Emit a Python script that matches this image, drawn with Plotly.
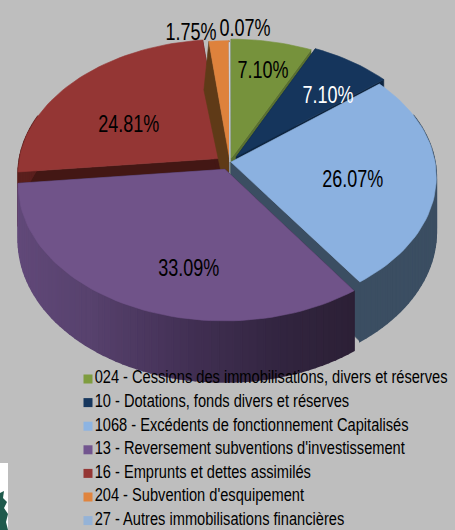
import math
import plotly.graph_objects as go

categories = ["024 - Cessions des immobilisations, divers et réserves",
              "10 - Dotations, fonds divers et réserves",
              "1068 - Excédents de fonctionnement Capitalisés",
              "13 - Reversement subventions d'investissement",
              "16 - Emprunts et dettes assimilés",
              "204 - Subvention d'esquipement",
              "27 - Autres immobilisations financières"]
values = [7.10, 7.10, 26.07, 33.09, 24.81, 1.75, 0.07]
legend_colors = ["#7F9D3F", "#17375E", "#8DB4E2", "#72558F", "#953735", "#E0843E", "#95B3D7"]
top_colors = ["#76923C", "#15355C", "#8BB1E0", "#705389", "#943634", "#DE823C", "#D5DCE8"]
radial_colors = ["#5A7030", "#0E2540", "#3B4E62", "#2C2035", "#431714", "#5F3A17", "#8A9AAE"]
outer_colors = ["#5A7030", "#0E2540", "#3B4E62", None, "#5A1F1D", "#5F3A17", "#8A9AAE"]
explode = [0.03, 0.05, 0.005, 0.06, 0.045, 0.015, 0.0]
label_colors = ["black", "white", "black", "black", "black", "black", "black"]
label_x = [263, 328, 352, 188, 128, 191, 245]
label_y = [69, 94, 178, 267, 123, 31, 27]
paint_order = [4, 5, 6, 0, 1, 2, 3]
purple_wall_stops = [(-1.0, (98, 74, 122)), (-0.6, (88, 66, 110)), (-0.15, (66, 48, 84)),
                     (0.25, (50, 37, 64)), (0.6, (44, 32, 53))]

CX, CY, A, B, D, H = 230, 162, 204, 133, 9.0, 54
BG = "#BEBEBE"


def project(X, Y, drop=0.0, lean=0.0):
    s = D / (D + Y)
    return CX + A * X * s + lean, CY - B * Y * s + drop * s


def lerp_stops(x):
    for (a, ca), (b, cb) in zip(purple_wall_stops, purple_wall_stops[1:]):
        if x <= b:
            t = max(0.0, (x - a) / (b - a))
            return "rgb(%d,%d,%d)" % tuple(ca[i] + (cb[i] - ca[i]) * t for i in range(3))
    return "rgb(%d,%d,%d)" % purple_wall_stops[-1][1]


fig = go.Figure()


def poly(pts, color, lw=0.6):
    fig.add_trace(go.Scatter(x=[p[0] for p in pts] + [pts[0][0]], y=[p[1] for p in pts] + [pts[0][1]],
                             mode="lines", fill="toself", fillcolor=color,
                             line=dict(color=color, width=lw), hoverinfo="skip", showlegend=False))


total = sum(values)
starts = [sum(values[:i]) / total * 2 * math.pi for i in range(len(values))]
ends = [sum(values[:i + 1]) / total * 2 * math.pi for i in range(len(values))]

for i in paint_order:
    a0, a1 = starts[i], ends[i]
    mid = (a0 + a1) / 2
    ox, oy = explode[i] * math.sin(mid), explode[i] * math.cos(mid)
    n = max(3, int((a1 - a0) * 30))
    angles = [a0 + (a1 - a0) * k / n for k in range(n + 1)]
    rim = [(ox + math.sin(t), oy + math.cos(t)) for t in angles]
    apex = (ox, oy)
    lean = -5 if i == 5 else 0
    for e in (rim[0], rim[-1]):
        poly([project(*apex), project(*e), project(*e, H, lean), project(*apex, H)], radial_colors[i])
    for k in range(n):
        p, q = rim[k], rim[k + 1]
        if p[1] > 0.35 and q[1] > 0.35:
            continue
        col = outer_colors[i] or lerp_stops(math.sin((angles[k] + angles[k + 1]) / 2))
        poly([project(*p), project(*q), project(*q, H), project(*p, H)], col, 1.6)
    poly([project(*apex)] + [project(*p) for p in rim], top_colors[i])

annotations = [dict(x=label_x[i], y=label_y[i], text=f"{values[i]:.2f}%", showarrow=False, xref="x", yref="y",
                    font=dict(family="Liberation Sans", size=24, color=label_colors[i]))
               for i in range(len(values))]

legend_y = [379 + 23.6 * i for i in range(len(categories))]
fig.add_trace(go.Scatter(x=[88] * len(categories), y=legend_y, mode="markers+text", text=categories,
                         textposition="middle right",
                         textfont=dict(family="Liberation Sans", size=17.5, color="black"),
                         marker=dict(symbol="square", size=9, color=legend_colors), hoverinfo="skip", showlegend=False))

shapes = [dict(type="rect", x0=0, x1=8, y0=463, y1=530, xref="x", yref="y", fillcolor="white",
               line=dict(width=0), layer="below"),
          dict(type="path", xref="x", yref="y", fillcolor="#1F5A4C", line=dict(width=0), layer="below",
               path="M0,493 L4,491 L3,498 L7,502 L4,508 L8,514 L6,522 L8,530 L0,530 Z")]

fig.update_layout(width=455, height=530, margin=dict(l=0, r=0, t=0, b=0), paper_bgcolor=BG, plot_bgcolor=BG,
                  autosize=False, showlegend=False, annotations=annotations, shapes=shapes,
                  xaxis=dict(range=[0, 455], visible=False, fixedrange=True),
                  yaxis=dict(range=[530, 0], visible=False, fixedrange=True))

# No narrow font is installed: squeeze the real text horizontally, and drop the page margin.
post = """
document.body.style.margin='0';
document.body.style.background='#BEBEBE';
var gd=document.getElementsByClassName('plotly-graph-div')[0];
function squeeze(sel,f){gd.querySelectorAll(sel).forEach(function(t){
  t.setAttribute('textLength',t.getComputedTextLength()*f);
  t.setAttribute('lengthAdjust','spacingAndGlyphs');});}
squeeze('.annotation-text',0.75);
squeeze('.textpoint text',0.836);
"""
fig.write_html("out.html", config=dict(displayModeBar=False), post_script=post)
